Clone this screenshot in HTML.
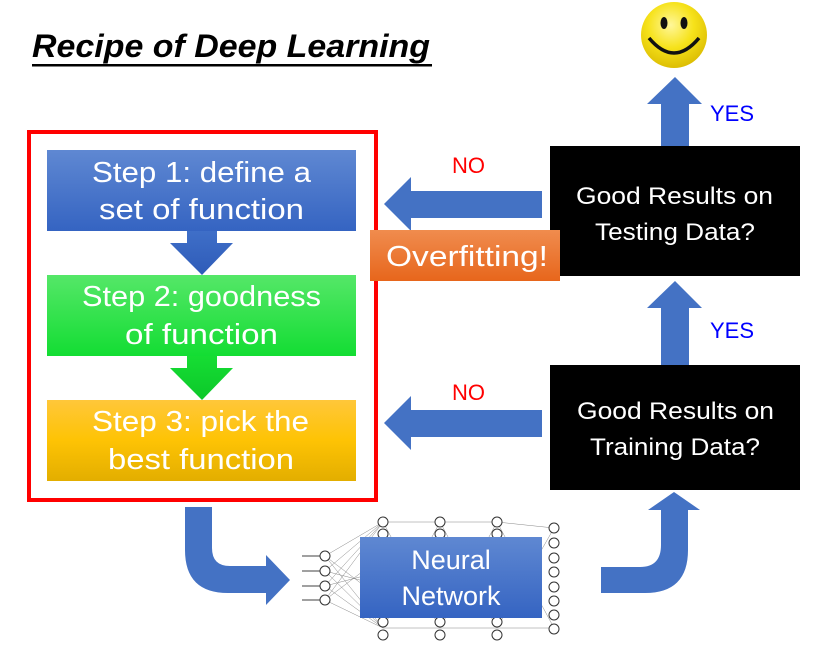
<!DOCTYPE html>
<html><head><meta charset="utf-8"><style>
body{margin:0;background:#fff;width:821px;height:648px;overflow:hidden}
svg{display:block}
text{font-family:"Liberation Sans",sans-serif}
</style></head><body>
<svg width="821" height="648" viewBox="0 0 821 648" xmlns="http://www.w3.org/2000/svg">
<defs>
<linearGradient id="gb" x1="0" y1="0" x2="0" y2="1"><stop offset="0" stop-color="#5f88d2"/><stop offset="1" stop-color="#3564c2"/></linearGradient>
<linearGradient id="gg" x1="0" y1="0" x2="0" y2="1"><stop offset="0" stop-color="#55e768"/><stop offset="1" stop-color="#13dd33"/></linearGradient>
<linearGradient id="gy" x1="0" y1="0" x2="0" y2="1"><stop offset="0" stop-color="#ffc73a"/><stop offset="0.5" stop-color="#fec304"/><stop offset="1" stop-color="#e3ae00"/></linearGradient>
<linearGradient id="go" x1="0" y1="0" x2="0" y2="1"><stop offset="0" stop-color="#f08c4e"/><stop offset="1" stop-color="#e7661c"/></linearGradient>
<linearGradient id="gba" x1="0" y1="0" x2="0" y2="1"><stop offset="0" stop-color="#3f6fc8"/><stop offset="1" stop-color="#2e5bb8"/></linearGradient>
<linearGradient id="gga" x1="0" y1="0" x2="0" y2="1"><stop offset="0" stop-color="#16dd33"/><stop offset="1" stop-color="#0cc82a"/></linearGradient>
<radialGradient id="sm" cx="0.45" cy="0.35" r="0.7"><stop offset="0" stop-color="#fff79a"/><stop offset="0.5" stop-color="#f6e21a"/><stop offset="1" stop-color="#d9b800"/></radialGradient>
</defs>

<text x="32" y="57" font-size="32" font-weight="bold" font-style="italic" fill="#000" textLength="398" lengthAdjust="spacingAndGlyphs">Recipe of Deep Learning</text>
<rect x="32" y="64" width="400" height="2.5" fill="#000"/>

<rect x="29" y="132" width="347" height="368" fill="none" stroke="#ff0000" stroke-width="4"/>

<rect x="47" y="150" width="309" height="81" fill="url(#gb)"/>
<text x="92" y="182" font-size="29" fill="#fff" textLength="219" lengthAdjust="spacingAndGlyphs">Step 1: define a</text>
<text x="99" y="219" font-size="29" fill="#fff" textLength="205" lengthAdjust="spacingAndGlyphs">set of function</text>
<polygon points="187,231 217,231 217,243 233,243 202,275 170,243 187,243" fill="url(#gba)"/>

<rect x="47" y="275" width="309" height="81" fill="url(#gg)"/>
<text x="82" y="306" font-size="29" fill="#fff" textLength="239" lengthAdjust="spacingAndGlyphs">Step 2: goodness</text>
<text x="125" y="344" font-size="29" fill="#fff" textLength="153" lengthAdjust="spacingAndGlyphs">of function</text>
<polygon points="187,356 217,356 217,368 233,368 202,400 170,368 187,368" fill="url(#gga)"/>

<rect x="47" y="400" width="309" height="81" fill="url(#gy)"/>
<text x="92" y="431" font-size="29" fill="#fff" textLength="217" lengthAdjust="spacingAndGlyphs">Step 3: pick the</text>
<text x="108" y="469" font-size="29" fill="#fff" textLength="186" lengthAdjust="spacingAndGlyphs">best function</text>

<rect x="550" y="146" width="250" height="130" fill="#000"/>
<text x="576" y="204" font-size="24" fill="#fff" textLength="197" lengthAdjust="spacingAndGlyphs">Good Results on</text>
<text x="595" y="240" font-size="24" fill="#fff" textLength="160" lengthAdjust="spacingAndGlyphs">Testing Data?</text>
<rect x="550" y="365" width="250" height="125" fill="#000"/>
<text x="577" y="419" font-size="24" fill="#fff" textLength="197" lengthAdjust="spacingAndGlyphs">Good Results on</text>
<text x="590" y="455" font-size="24" fill="#fff" textLength="170" lengthAdjust="spacingAndGlyphs">Training Data?</text>

<polygon points="661,146 689,146 689,104 702,104 675,77 647,104 661,104" fill="#4472c4"/>
<polygon points="661,365 689,365 689,308 702,308 675,281 647,308 661,308" fill="#4472c4"/>
<text x="710" y="121" font-size="22" fill="#0000ff">YES</text>
<text x="710" y="338" font-size="22" fill="#0000ff">YES</text>

<polygon points="542,191 542,218 411,218 411,231 384,204 411,177 411,191" fill="#4472c4"/>
<polygon points="542,410 542,437 411,437 411,450 384,423 411,396 411,410" fill="#4472c4"/>
<text x="452" y="173" font-size="22" fill="#ff0000">NO</text>
<text x="452" y="400" font-size="22" fill="#ff0000">NO</text>

<rect x="370" y="230" width="190" height="51" fill="url(#go)"/>
<text x="386" y="266" font-size="29" fill="#fff" textLength="162" lengthAdjust="spacingAndGlyphs">Overfitting!</text>

<circle cx="674" cy="35" r="33" fill="url(#sm)"/>
<ellipse cx="664" cy="23" rx="3.5" ry="6" fill="#111"/>
<ellipse cx="684" cy="23" rx="3.5" ry="6" fill="#111"/>
<path d="M649,38 Q674,68 699,38" fill="none" stroke="#111" stroke-width="3.5"/>

<path d="M185,507 L212,507 L212,548 Q212,566 230,566 L266,566 L266,555 L290,580 L266,605 L266,593 L228,593 Q185,593 185,550 Z" fill="#4472c4"/>
<path d="M601,567 L640,567 Q661,567 661,545 L661,510 L648,510 L674,492 L700,510 L688,510 L688,550 Q688,593 645,593 L601,593 Z" fill="#4472c4"/>

<g stroke="#555" stroke-width="0.5" opacity="0.7">
<path d="M325,556 L383,522 M325,556 L383,628 M325,571 L383,522 M325,571 L383,628 M325,586 L383,522 M325,586 L383,628 M325,600 L383,522 M325,600 L383,628 M325,556 L383,600 M325,600 L383,556 M325,571 L383,586 M325,586 L383,571"/>
<path d="M383,522 L440,628 M383,628 L440,522 M440,522 L497,628 M440,628 L497,522 M497,522 L554,628 M497,628 L554,528 M383,522 L440,522 M440,522 L497,522 M383,628 L440,628 M440,628 L497,628 M497,522 L554,528 M497,628 L554,628"/>
</g>
<g stroke="#000" stroke-width="0.7">
<line x1="302" y1="556" x2="320" y2="556"/><line x1="302" y1="571" x2="320" y2="571"/><line x1="302" y1="586" x2="320" y2="586"/><line x1="302" y1="600" x2="320" y2="600"/>
</g>
<g fill="#fff" stroke="#333" stroke-width="1">
<circle cx="325" cy="556" r="5"/><circle cx="325" cy="571" r="5"/><circle cx="325" cy="586" r="5"/><circle cx="325" cy="600" r="5"/>
<circle cx="383" cy="522" r="5"/><circle cx="383" cy="534" r="5"/><circle cx="383" cy="622" r="5"/><circle cx="383" cy="635" r="5"/>
<circle cx="440" cy="522" r="5"/><circle cx="440" cy="534" r="5"/><circle cx="440" cy="622" r="5"/><circle cx="440" cy="635" r="5"/>
<circle cx="497" cy="522" r="5"/><circle cx="497" cy="534" r="5"/><circle cx="497" cy="622" r="5"/><circle cx="497" cy="635" r="5"/>
<circle cx="554" cy="528" r="5"/><circle cx="554" cy="543" r="5"/><circle cx="554" cy="558" r="5"/><circle cx="554" cy="572" r="5"/><circle cx="554" cy="587" r="5"/><circle cx="554" cy="601" r="5"/><circle cx="554" cy="615" r="5"/><circle cx="554" cy="629" r="5"/>
</g>
<rect x="360" y="537" width="182" height="81" fill="url(#gb)"/>
<text x="451" y="569" font-size="27" fill="#fff" text-anchor="middle">Neural</text>
<text x="451" y="605" font-size="27" fill="#fff" text-anchor="middle">Network</text>
</svg>
</body></html>
